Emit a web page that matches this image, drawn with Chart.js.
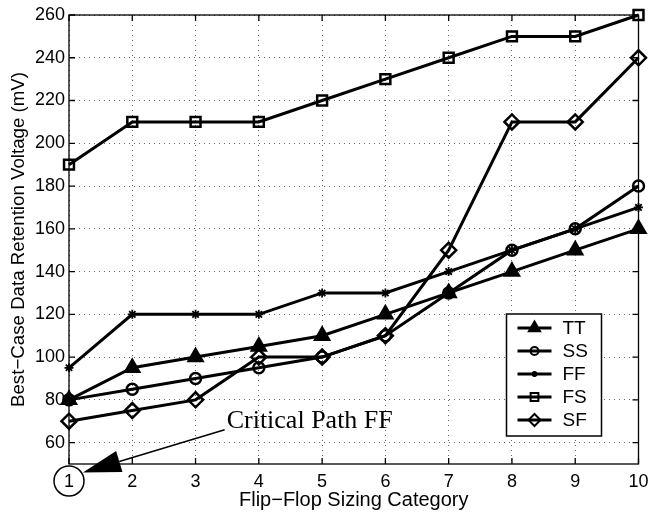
<!DOCTYPE html>
<html>
<head>
<meta charset="utf-8">
<script src="https://cdn.jsdelivr.net/npm/chart.js@4/dist/chart.umd.min.js"></script>
<style>
  html, body { margin: 0; padding: 0; background: #fff; }
  #wrap { width: 649px; height: 514px; }
</style>
</head>
<body>
<div id="wrap"><canvas id="chart" width="649" height="514"></canvas></div>
<script>
// data
const categories = ['1', '2', '3', '4', '5', '6', '7', '8', '9', '10'];
const yTicks = [60, 80, 100, 120, 140, 160, 180, 200, 220, 240, 260];
const seriesNames = ['TT', 'SS', 'FF', 'FS', 'SF'];
const ttValues = [80, 95, 100, 105, 110, 120, 130, 140, 150, 160];
const ssValues = [80, 85, 90, 95, 100, 110, 130, 150, 160, 180];
const ffValues = [95, 120, 120, 120, 130, 130, 140, 150, 160, 170];
const fsValues = [190, 210, 210, 210, 220, 230, 240, 250, 250, 260];
const sfValues = [70, 75, 80, 100, 100, 110, 150, 210, 210, 240];

const noteText = 'Critical Path FF';
// arrow in data space: tail near text, tip just below category 1
const arrowTail = [3.46, 66];
const arrowTip = [1.22, 46];

const markers = [
    { style: 'triangle', radius: 8, fill: '#000', bw: 2.5 },
    { style: 'circle', radius: 5.5, fill: 'rgba(0,0,0,0)', bw: 2.5 },
    { style: 'star', radius: 4.5, fill: '#000', bw: 1.8 },
    { style: 'rect', radius: 7, fill: 'rgba(0,0,0,0)', bw: 2.5 },
    { style: 'rectRot', radius: 7.5, fill: 'rgba(0,0,0,0)', bw: 2.5 }
];
const allValues = [ttValues, ssValues, ffValues, fsValues, sfValues];

const datasets = seriesNames.map((name, i) => ({
    label: name,
    data: allValues[i],
    borderColor: '#000',
    borderWidth: 3,
    pointStyle: markers[i].style,
    pointRadius: markers[i].radius,
    pointBackgroundColor: markers[i].fill,
    pointBorderColor: '#000',
    pointBorderWidth: markers[i].bw,
    tension: 0,
    fill: false,
    clip: false
}));

const framePlugin = {
    id: 'frame',
    afterDraw(chart) {
        const ctx = chart.ctx;
        const a = chart.chartArea;
        const xs = chart.scales.x, ys = chart.scales.y;
        ctx.save();
        // box and inward ticks
        ctx.strokeStyle = '#000';
        ctx.lineWidth = 1.3;
        ctx.strokeRect(a.left, a.top, a.right - a.left, a.bottom - a.top);
        ctx.beginPath();
        yTicks.forEach(v => {
            const y = ys.getPixelForValue(v);
            ctx.moveTo(a.left, y); ctx.lineTo(a.left + 6, y);
            ctx.moveTo(a.right, y); ctx.lineTo(a.right - 6, y);
        });
        categories.forEach((c, i) => {
            const x = xs.getPixelForValue(i);
            ctx.moveTo(x, a.bottom); ctx.lineTo(x, a.bottom - 6);
            ctx.moveTo(x, a.top); ctx.lineTo(x, a.top + 6);
        });
        ctx.stroke();

        // legend
        const lx = a.right - 132, ly = a.bottom - 150, lw = 95, lh = 122;
        ctx.fillStyle = '#fff';
        ctx.fillRect(lx, ly, lw, lh);
        ctx.lineWidth = 1.5;
        ctx.strokeRect(lx, ly, lw, lh);
        ctx.font = '19px "Liberation Sans", Arial, sans-serif';
        ctx.textBaseline = 'middle';
        seriesNames.forEach((name, i) => {
            const y = ly + 14 + i * 23;
            ctx.strokeStyle = '#000';
            ctx.lineWidth = 3;
            ctx.beginPath();
            ctx.moveTo(lx + 11, y); ctx.lineTo(lx + 45, y);
            ctx.stroke();
            ctx.fillStyle = markers[i].fill;
            ctx.lineWidth = 2;
            Chart.helpers.drawPoint(ctx, {
                pointStyle: markers[i].style,
                radius: markers[i].radius - 1.5,
                borderWidth: 2,
                rotation: 0
            }, lx + 28, y);
            ctx.fillStyle = '#000';
            ctx.fillText(name, lx + 56, y + 1);
        });

        // annotation: arrow, text, circled tick label
        const tx = xs.getPixelForValue(arrowTail[0] - 1), ty = ys.getPixelForValue(arrowTail[1]);
        const hx = xs.getPixelForValue(arrowTip[0] - 1), hy = ys.getPixelForValue(arrowTip[1]);
        const ang = Math.atan2(ty - hy, tx - hx);
        const hl = 38, hw = 11;
        const bx = hx + Math.cos(ang) * hl, by = hy + Math.sin(ang) * hl;
        ctx.strokeStyle = '#000';
        ctx.lineWidth = 1.5;
        ctx.beginPath();
        ctx.moveTo(tx, ty); ctx.lineTo(bx, by);
        ctx.stroke();
        ctx.fillStyle = '#000';
        ctx.beginPath();
        ctx.moveTo(hx, hy);
        ctx.lineTo(bx - Math.sin(ang) * hw, by + Math.cos(ang) * hw);
        ctx.lineTo(bx + Math.sin(ang) * hw, by - Math.cos(ang) * hw);
        ctx.closePath();
        ctx.fill();

        ctx.font = '26px "Liberation Serif", "Times New Roman", serif';
        ctx.textBaseline = 'alphabetic';
        ctx.textAlign = 'left';
        ctx.fillText(noteText, tx + 2, ty - 2);

        const cx = xs.getPixelForValue(0);
        ctx.lineWidth = 1.5;
        ctx.beginPath();
        ctx.arc(cx, a.bottom + 17, 15, 0, Math.PI * 2);
        ctx.stroke();
        ctx.restore();
    }
};

const tickFont = { size: 18, family: '"Liberation Sans", Arial, sans-serif' };
const titleFont = { size: 20, family: '"Liberation Sans", Arial, sans-serif' };

const ctx = document.getElementById('chart').getContext('2d');
new Chart(ctx, {
    type: 'line',
    data: { labels: categories, datasets: datasets },
    options: {
        responsive: false,
        animation: false,
        layout: { padding: { top: 15, right: 10, left: 0, bottom: 0 } },
        plugins: { legend: { display: false }, tooltip: { enabled: false } },
        scales: {
            x: {
                offset: false,
                grid: { color: '#666', drawTicks: false },
                border: { display: false, dash: [1, 4] },
                ticks: { color: '#000', padding: 7, font: tickFont },
                title: { display: true, text: 'Flip\u2212Flop Sizing Category', color: '#000', padding: { top: 0, bottom: 2 },
                    font: titleFont },
                afterFit(scale) { scale.height = 50; scale.paddingLeft = 0; scale.paddingRight = 0; }
            },
            y: {
                min: 50,
                max: 260,
                afterBuildTicks(scale) { scale.ticks = yTicks.map(v => ({ value: v })); },
                grid: { color: '#666', drawTicks: false },
                border: { display: false, dash: [1, 4] },
                ticks: { color: '#000', padding: 4, font: tickFont },
                title: { display: true, text: 'Best\u2212Case Data Retention Voltage (mV)', color: '#000', padding: { top: 8, bottom: 0 },
                    font: { size: 18.7, family: '"Liberation Sans", Arial, sans-serif' } },
                afterFit(scale) { scale.width = 69; scale.paddingTop = 0; scale.paddingBottom = 0; }
            }
        }
    },
    plugins: [framePlugin]
});
</script>
</body>
</html>
